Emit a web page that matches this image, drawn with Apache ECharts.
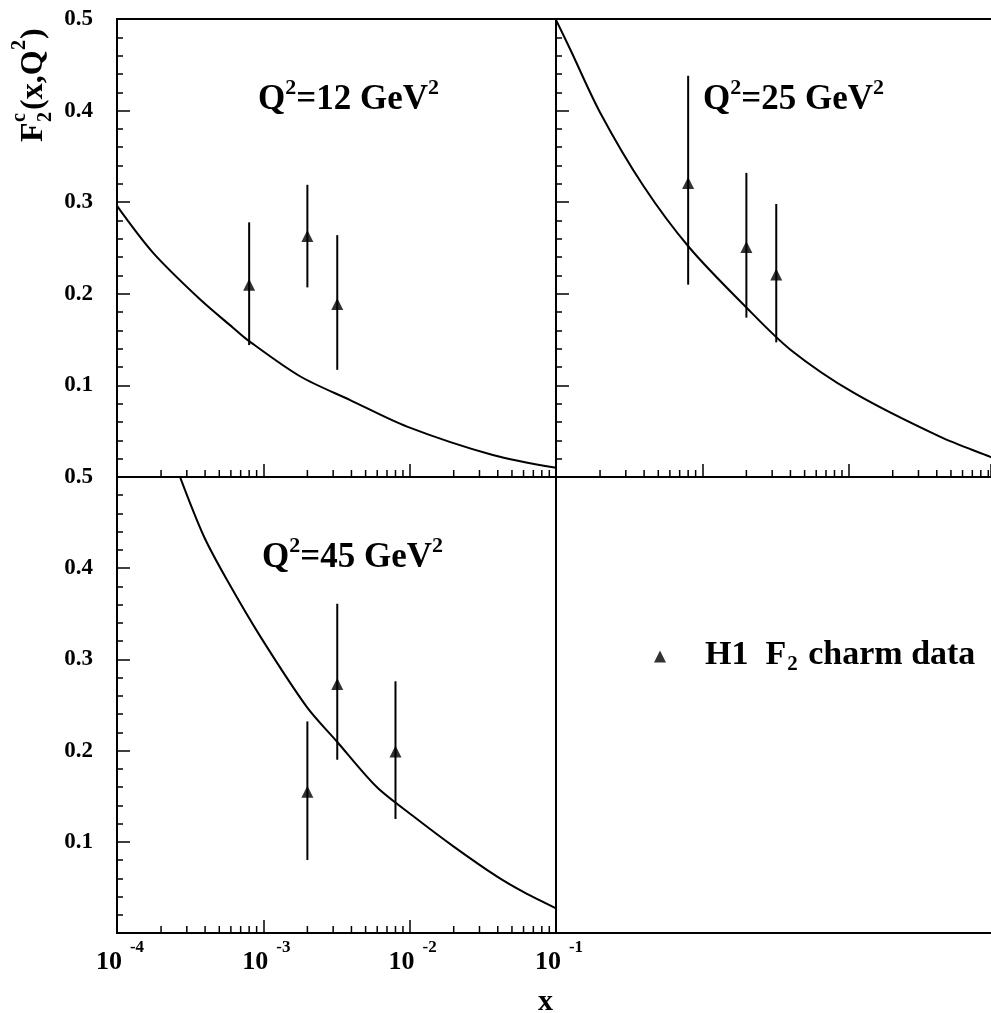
<!DOCTYPE html>
<html><head><meta charset="utf-8">
<script src="https://cdn.jsdelivr.net/npm/echarts@6/dist/echarts.min.js"></script>
<style>html,body{margin:0;padding:0;background:#fff}#c{width:991px;height:1013px}</style>
</head><body><div id="c"></div>
<script>
const FONT = '"Liberation Serif", "Times New Roman", serif';

// ---- axis ticks ----
const X_MIN = 1e-4, X_MAX = 1e-1;
const X_MINOR_TICKS = [2e-4,3e-4,4e-4,5e-4,6e-4,7e-4,8e-4,9e-4,
                       2e-3,3e-3,4e-3,5e-3,6e-3,7e-3,8e-3,9e-3,
                       2e-2,3e-2,4e-2,5e-2,6e-2,7e-2,8e-2,9e-2];
const Y_MIN = 0, Y_MAX = 0.5, Y_STEP = 0.1;

// ---- Q2 = 12 GeV2 ----
const q12X  = [8e-4, 2e-3, 3.2e-3];
const q12Y  = [0.210, 0.263, 0.189];
const q12Lo = [0.144, 0.207, 0.117];
const q12Hi = [0.278, 0.319, 0.264];
const q12CurveX = [1e-4, 1.76e-4, 3.69e-4, 6.2e-4, 7.74e-4, 1.78e-3, 3.92e-3, 9.6e-3, 3.7e-2, 1e-1];
const q12CurveY = [0.296, 0.245, 0.194, 0.163, 0.150, 0.110, 0.084, 0.055, 0.024, 0.010];

// ---- Q2 = 25 GeV2 ----
const q25X  = [8e-4, 2e-3, 3.2e-3];
const q25Y  = [0.321, 0.251, 0.221];
const q25Lo = [0.210, 0.174, 0.147];
const q25Hi = [0.438, 0.332, 0.298];
const q25CurveX = [1e-4, 1.25e-4, 2e-4, 3.95e-4, 8.2e-4, 2e-3, 4e-3, 1.08e-2, 4.2e-2, 9.3e-2, 1e-1];
const q25CurveY = [0.499, 0.467, 0.398, 0.318, 0.250, 0.185, 0.139, 0.092, 0.044, 0.022, 0.020];

// ---- Q2 = 45 GeV2 ----
const q45X  = [2e-3, 3.2e-3, 8e-3];
const q45Y  = [0.155, 0.273, 0.199];
const q45Lo = [0.080, 0.190, 0.125];
const q45Hi = [0.232, 0.361, 0.276];
const q45CurveX = [2.71e-4, 3.92e-4, 5.65e-4, 9.55e-4, 1.98e-3, 3.18e-3, 5.96e-3, 1.06e-2, 1.99e-2, 3.94e-2, 5.98e-2, 1e-1];
const q45CurveY = [0.499, 0.435, 0.387, 0.325, 0.248, 0.210, 0.160, 0.128, 0.095, 0.062, 0.045, 0.027];

const panelLabels = ['12', '25', '45'];
const legendName = 'H1';

const zip = (a, b) => a.map((v, i) => [v, b[i]]);

const panels = [
  {x: q12X, y: q12Y, lo: q12Lo, hi: q12Hi, cx: q12CurveX, cy: q12CurveY},
  {x: q25X, y: q25Y, lo: q25Lo, hi: q25Hi, cx: q25CurveX, cy: q25CurveY},
  {x: q45X, y: q45Y, lo: q45Lo, hi: q45Hi, cx: q45CurveX, cy: q45CurveY}
];

// left panels are 439 px wide; the right column is cut by the page edge,
// so its axis ends where the page ends, at the same px-per-decade scale
const LEFT_W = 439, RIGHT_W = 435;
const X_MAX_RIGHT = Math.pow(10, Math.log10(X_MIN) + RIGHT_W / LEFT_W * Math.log10(X_MAX / X_MIN));

const frame = {show: true, borderColor: '#000', borderWidth: 2, backgroundColor: 'transparent', containLabel: false};
const grids = [
  Object.assign({left: 117, top: 19, width: LEFT_W, height: 458}, frame),
  {left: 556, top: 19, width: RIGHT_W, height: 458, show: false},
  Object.assign({left: 117, top: 477, width: LEFT_W, height: 456}, frame),
  {left: 556, top: 477, width: RIGHT_W, height: 456, show: false}
];

const axLine = {show: true, lineStyle: {color: '#000', width: 2}};
const xAxes = [0, 1, 2].map(i => ({
  type: 'log', logBase: 10, gridIndex: i, min: X_MIN, max: i === 1 ? X_MAX_RIGHT : X_MAX,
  axisLine: axLine,
  axisTick: {show: true, inside: true, length: 13, lineStyle: {color: '#000', width: 1.5}},
  splitLine: {show: false},
  axisLabel: i === 2 ? {
    show: true, margin: 6, showMinLabel: true, showMaxLabel: true,
    formatter: v => '{b|10}{s|' + Math.round(Math.log10(v)) + '}',
    rich: {
      b: {fontFamily: FONT, fontWeight: 'bold', fontSize: 26, color: '#000', lineHeight: 36, verticalAlign: 'bottom', padding: [0, 0, 0, 6]},
      s: {fontFamily: FONT, fontWeight: 'bold', fontSize: 17, color: '#000', lineHeight: 17, verticalAlign: 'top', padding: [0, 0, 0, 8]}
    }
  } : {show: false}
}));
// plain frame lines for the right column (top edge and bottom edge)
xAxes.push({type: 'value', gridIndex: 3, min: 0, max: 1, axisLine: axLine, axisTick: {show: false}, axisLabel: {show: false}, splitLine: {show: false}});
xAxes.push({type: 'value', gridIndex: 1, position: 'top', min: 0, max: 1, axisLine: axLine, axisTick: {show: false}, axisLabel: {show: false}, splitLine: {show: false}});

const yAxes = [0, 1, 2].map(i => ({
  type: 'value', gridIndex: i, min: Y_MIN, max: Y_MAX, interval: Y_STEP,
  axisLine: axLine,
  axisTick: {show: true, inside: true, length: 13, lineStyle: {color: '#000', width: 1.5}},
  minorTick: {show: true, splitNumber: 5, length: 6, lineStyle: {color: '#000', width: 1.5}},
  splitLine: {show: false},
  axisLabel: i === 1 ? {show: false} : {
    show: true, margin: 24, fontFamily: FONT, fontWeight: 'bold', fontSize: 23, color: '#000',
    formatter: v => v === 0 ? '' : v.toFixed(1)
  }
}));
yAxes.push({type: 'value', gridIndex: 3, show: false, min: 0, max: 1});

const series = [];
panels.forEach((p, i) => {
  series.push({
    type: 'line', xAxisIndex: i, yAxisIndex: i, data: zip(p.cx, p.cy),
    showSymbol: false, smooth: 0.3, lineStyle: {color: '#000', width: 2}, silent: true, clip: true
  });
  series.push({
    type: 'custom', xAxisIndex: i, yAxisIndex: i, silent: true,
    data: p.x.map((v, k) => [v, p.lo[k], p.hi[k]]),
    encode: {x: 0, y: [1, 2]},
    renderItem: (params, api) => {
      const a = api.coord([api.value(0), api.value(1)]);
      const b = api.coord([api.value(0), api.value(2)]);
      return {type: 'line', shape: {x1: a[0], y1: a[1], x2: b[0], y2: b[1]}, style: {stroke: '#000', lineWidth: 2}};
    }
  });
  series.push({
    type: 'scatter', name: legendName, xAxisIndex: i, yAxisIndex: i,
    data: zip(p.x, p.y), symbol: 'triangle', symbolSize: 12,
    itemStyle: {color: '#000'}, z: 5
  });
  series.push({
    type: 'custom', xAxisIndex: i, yAxisIndex: i, silent: true,
    data: X_MINOR_TICKS.map(v => [v, 0]),
    encode: {x: 0, y: 1},
    renderItem: (params, api) => {
      const a = api.coord([api.value(0), 0]);
      return {type: 'line', shape: {x1: a[0], y1: a[1], x2: a[0], y2: a[1] - 7}, style: {stroke: '#000', lineWidth: 1.5}};
    }
  });
});

const bigRich = {
  b: {fontFamily: FONT, fontWeight: 'bold', fontSize: 35, fill: '#000', lineHeight: 40, verticalAlign: 'bottom'},
  sup: {fontFamily: FONT, fontWeight: 'bold', fontSize: 22, fill: '#000', lineHeight: 22, verticalAlign: 'top'}
};
const qText = (label, x, y) => ({
  type: 'text', left: x, top: y, z: 10,
  style: {text: '{b|Q}{sup|2}{b|=' + label + ' GeV}{sup|2}', rich: bigRich, fill: '#000'}
});

const titleFont = s => 'bold ' + s + 'px ' + FONT;

const option = {
  backgroundColor: '#fff',
  animation: false,
  grid: grids,
  xAxis: xAxes,
  yAxis: yAxes,
  series: series,
  legend: {
    data: [legendName], left: 649, top: 633, icon: 'triangle', itemWidth: 12, itemHeight: 12,
    formatter: () => '{a|H1  F}{s|2}{c| charm data}',
    textStyle: {
      rich: {
        a: {fontFamily: FONT, fontWeight: 'bold', fontSize: 34, color: '#000', lineHeight: 37, verticalAlign: 'top', padding: [0, 0, 0, 34]},
        c: {fontFamily: FONT, fontWeight: 'bold', fontSize: 34, color: '#000', lineHeight: 37, verticalAlign: 'top'},
        s: {fontFamily: FONT, fontWeight: 'bold', fontSize: 21, color: '#000', lineHeight: 20, verticalAlign: 'bottom', padding: [0, 2, 0, 1]}
      }
    },
    selectedMode: false
  },
  graphic: [
    qText(panelLabels[0], 258, 77),
    qText(panelLabels[1], 703, 77),
    qText(panelLabels[2], 262, 535),
    {
      type: 'text', left: 538, top: 987, z: 10,
      style: {text: 'x', font: titleFont(30), fill: '#000'}
    },
    {
      type: 'group', x: 0, y: 142, rotation: Math.PI / 2, z: 10,
      children: [
        {type: 'text', x: 0, y: 34, style: {text: 'F', font: titleFont(32), fill: '#000', verticalAlign: 'middle', align: 'left'}},
        {type: 'text', x: 20, y: 20, style: {text: 'c', font: titleFont(20), fill: '#000', verticalAlign: 'middle', align: 'left'}},
        {type: 'text', x: 20, y: 46, style: {text: '2', font: titleFont(20), fill: '#000', verticalAlign: 'middle', align: 'left'}},
        {type: 'text', x: 32, y: 34, style: {text: '(x,Q', font: titleFont(32), fill: '#000', verticalAlign: 'middle', align: 'left'}},
        {type: 'text', x: 92, y: 20, style: {text: '2', font: titleFont(20), fill: '#000', verticalAlign: 'middle', align: 'left'}},
        {type: 'text', x: 103, y: 34, style: {text: ')', font: titleFont(32), fill: '#000', verticalAlign: 'middle', align: 'left'}}
      ]
    }
  ]
};

const chart = echarts.init(document.getElementById('c'), null, {renderer: 'canvas'});
chart.setOption(option);
</script>
</body></html>
